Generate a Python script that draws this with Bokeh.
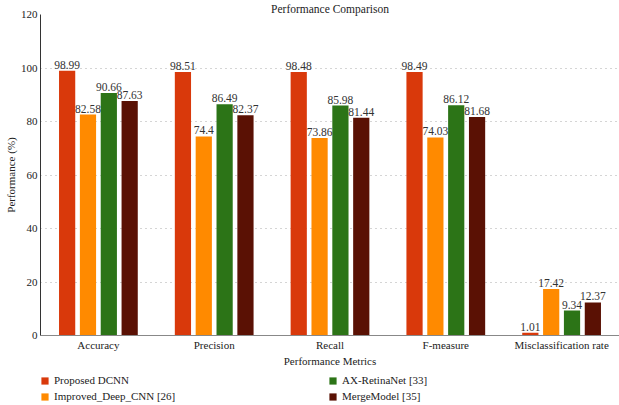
from bokeh.plotting import figure
from bokeh.models import ColumnDataSource, FactorRange, Legend, LegendItem, Range1d, LabelSet
from bokeh.layouts import column
from bokeh.transform import dodge
from bokeh.embed import file_html
from bokeh.resources import INLINE

metrics = ["Accuracy", "Precision", "Recall", "F-measure", "Misclassification rate"]
series_names = ["Proposed DCNN", "Improved_Deep_CNN [26]", "AX-RetinaNet [33]", "MergeModel [35]"]
proposed = [98.99, 98.51, 98.48, 98.49, 1.01]
improved = [82.58, 74.4, 73.86, 74.03, 17.42]
retina = [90.66, 86.49, 85.98, 86.12, 9.34]
merge = [87.63, 82.37, 81.44, 81.68, 12.37]
y_ticks = [0, 20, 40, 60, 80, 100, 120]

colors = ["#D9390B", "#FF8A00", "#2C7417", "#5A1104"]
offsets = [-0.27, -0.09, 0.09, 0.27]
FONT = "Liberation Serif"
FS = "11.5px"
FS2 = "11px"

src = ColumnDataSource(dict(
    x=metrics, proposed=proposed, improved=improved, retina=retina, merge=merge,
    proposed_t=[str(v) for v in proposed], improved_t=[str(v) for v in improved],
    retina_t=[str(v) for v in retina], merge_t=[str(v) for v in merge],
))
cols = ["proposed", "improved", "retina", "merge"]

p = figure(x_range=FactorRange(*metrics, range_padding=0), y_range=Range1d(0, 120),
           width=619, height=369, output_backend="svg", toolbar_location=None,
           title="Performance Comparison", min_border_right=0, min_border_top=0,
           min_border_left=0, min_border_bottom=0)

for c, col, off in zip(cols, colors, offsets):
    p.vbar(x=dodge("x", off, range=p.x_range), top=c, width=0.14, source=src,
           fill_color=col, line_color=None)
    lbl = LabelSet(x=dodge("x", off, range=p.x_range), y=c, text=c + "_t", source=src,
                   text_align="center", text_baseline="bottom", y_offset=2,
                   text_font=FONT, text_font_size=FS, text_color="#333333")
    p.add_layout(lbl)

p.title.text_font = FONT
p.title.text_font_size = FS
p.title.text_font_style = "normal"
p.title.align = "center"
p.title.text_color = "#222222"
p.title.offset = 0
p.title.standoff = 0

p.yaxis.ticker = y_ticks
p.yaxis.axis_label = "Performance (%)"
p.xaxis.axis_label = "Performance Metrics"
for ax in (p.xaxis, p.yaxis):
    ax.axis_label_text_font = FONT
    ax.axis_label_text_font_size = FS2
    ax.axis_label_text_font_style = "normal"
    ax.axis_label_text_color = "#222222"
    ax.major_label_text_font = FONT
    ax.major_label_text_font_size = FS2
    ax.major_label_text_color = "#222222"
    ax.major_tick_line_color = None
    ax.minor_tick_line_color = None
    ax.major_tick_out = 0
    ax.major_tick_in = 0
    ax.minor_tick_out = 0
    ax.major_label_standoff = 3
    ax.axis_label_standoff = 1
p.xaxis.major_label_standoff = 3
p.xaxis.axis_label_standoff = 1
p.yaxis.axis_line_color = "#333333"
p.xaxis.axis_line_color = "#888888"
p.xaxis.axis_line_width = 1.2

p.xgrid.grid_line_color = None
p.ygrid.grid_line_color = "#aaaaaa"
p.ygrid.grid_line_dash = "1 4"
p.outline_line_color = None

# legend figure (renderers hidden, used only for legend glyphs)
lg = figure(width=619, height=36, output_backend="svg", toolbar_location=None,
            x_range=FactorRange(*metrics), y_range=Range1d(0, 1),
            x_axis_location=None, y_axis_location=None,
            min_border_left=40, min_border_right=0, min_border_top=5, min_border_bottom=0)
lg.grid.grid_line_color = None
lg.outline_line_color = None
lrs = []
for c, col in zip(cols, colors):
    r = lg.vbar(x="x", top=c, width=0.1, source=src, fill_color=col, line_color=None)
    r.visible = False
    lrs.append(r)
items = [LegendItem(label=n, renderers=[r]) for n, r in zip(series_names, lrs)]
legend = Legend(items=items, ncols=2, location="top_left",
                label_text_font=FONT, label_text_font_size=FS2, label_text_color="#222222",
                glyph_width=9, glyph_height=9, label_standoff=5, label_width=270,
                label_height=12, spacing=4, padding=0, margin=0,
                inactive_fill_alpha=0,
                border_line_color=None, background_fill_alpha=0)
lg.add_layout(legend, "center")

open("out.html", "w").write(file_html(column(p, lg), INLINE))
